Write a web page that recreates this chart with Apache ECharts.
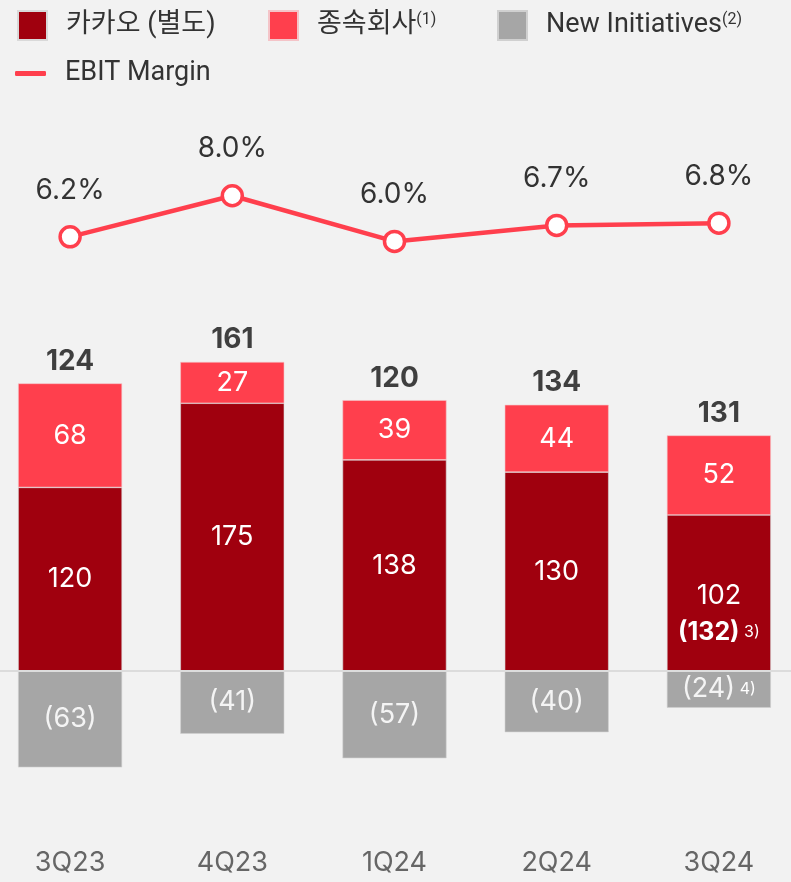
<!DOCTYPE html>
<html>
<head>
<meta charset="utf-8">
<script src="https://cdn.jsdelivr.net/npm/echarts@6/dist/echarts.min.js"></script>
<style>
  html, body { margin: 0; padding: 0; background: #f2f2f2; overflow: hidden; }
  #chart { width: 811px; height: 882px; margin-left: -11px; }
</style>
</head>
<body>
<div id="chart"></div>
<script>
// quarters and values (KRW bn)
const quarters = ['3Q23', '4Q23', '1Q24', '2Q24', '3Q24']
const kakaoSeparate = [120, 175, 138, 130, 102]
const subsidiaries = [68, 27, 39, 44, 52]
const newInitiatives = [-63, -41, -57, -40, -24]
const totals = [124, 161, 120, 134, 131]
const ebitMargin = [6.2, 8.0, 6.0, 6.7, 6.8]

const FONT = 'Inter, "Noto Sans CJK KR", sans-serif'
const LFONT = 'Roboto, "Noto Sans CJK KR", sans-serif'
const DARK = '#a0000e'
const RED = '#ff3f4d'
const GRAY = '#a6a6a6'

const chart = echarts.init(document.getElementById('chart'))

const legendText = { fontFamily: LFONT, fontSize: 27, color: '#333', padding: [0, 0, 0, 14],
  rich: { sup: { fontFamily: LFONT, fontSize: 16, color: '#333', verticalAlign: 'top', padding: [0, 0, 12, 0] } } }

// one legend per item so each sits where the reference has it (x offset by the -11px div shift)
function legendAt(name, left, top, icon, w, h, fmt, extra) {
  return Object.assign({
    data: [name], left: left, top: top, icon: icon, itemWidth: w, itemHeight: h,
    itemGap: 0, textStyle: legendText, selectedMode: false,
    formatter: fmt || (n => n)
  }, extra || {})
}

chart.setOption({
  backgroundColor: '#f2f2f2',
  animation: false,
  textStyle: { fontFamily: FONT },
  legend: [
    legendAt('카카오 (별도)', 23, 5, 'rect', 29, 29),
    legendAt('종속회사', 274, 5, 'rect', 29, 29, n => n + '{sup|(1)}'),
    legendAt('New Initiatives', 503, 5, 'rect', 29, 29, n => n + '{sup|(2)}'),
    legendAt('EBIT Margin', 21, 55, 'roundRect', 31, 5, null,
      { itemStyle: { color: RED, borderWidth: 0 } })
  ],
  grid: [
    { left: 0, right: 0, top: 212, bottom: 58 },
    { left: 0, right: 0, top: 150, height: 160 }
  ],
  xAxis: [
    {
      type: 'category', data: quarters, gridIndex: 0,
      axisLine: { show: false }, axisTick: { show: false },
      axisLabel: { fontFamily: FONT, fontSize: 27, color: '#666', margin: 25 }
    },
    { type: 'category', data: quarters, gridIndex: 1, show: false }
  ],
  yAxis: [
    { type: 'value', gridIndex: 0, min: -100, max: 300, show: false, splitLine: { show: false } },
    { type: 'value', gridIndex: 1, min: 3, max: 10, show: false, splitLine: { show: false } }
  ],
  series: [
    {
      name: '카카오 (별도)', type: 'bar', stack: 'ebit', barWidth: 104,
      itemStyle: { color: DARK, borderColor: '#d9d9d9', borderWidth: 0.6 },
      label: {
        show: true, position: 'inside', color: '#fff', fontFamily: FONT, fontSize: 27,
        formatter: p => p.dataIndex === 4 ? '{a|' + p.value + '}\n{b|(132)}{s| 3)}' : String(p.value),
        rich: {
          a: { fontFamily: FONT, fontSize: 27, color: '#fff', lineHeight: 37 },
          b: { fontFamily: FONT, fontSize: 25, fontWeight: 'bold', color: '#fff', lineHeight: 37 },
          s: { fontFamily: FONT, fontSize: 16, color: '#fff', lineHeight: 37 }
        }
      },
      markLine: {
        silent: true, symbol: 'none', label: { show: false },
        lineStyle: { color: '#dcdcdc', type: 'solid', width: 2 },
        data: [{ yAxis: 0 }]
      },
      data: kakaoSeparate.map((v, i) => i === 4 ? { value: v, label: { offset: [0, 21] } } : v)
    },
    {
      name: '종속회사', type: 'bar', stack: 'ebit', barWidth: 104,
      itemStyle: { color: RED, borderColor: '#f4c4c8', borderWidth: 0.6 },
      label: { show: true, position: 'inside', color: '#fff', fontFamily: FONT, fontSize: 27 },
      data: subsidiaries
    },
    {
      name: 'New Initiatives', type: 'bar', stack: 'ebit', barWidth: 104,
      itemStyle: { color: GRAY, borderColor: '#d0d0d0', borderWidth: 0.6 },
      label: {
        show: true, position: 'inside', color: '#f4f4f4', fontFamily: FONT, fontSize: 27,
        formatter: p => p.dataIndex === 4 ? '(' + (-p.value) + '){s| 4)}' : '(' + (-p.value) + ')',
        rich: { s: { fontFamily: FONT, fontSize: 16, color: '#fff' } }
      },
      data: newInitiatives
    },
    {
      name: 'total', type: 'scatter', symbolSize: 0, silent: true,
      label: {
        show: true, position: 'top', distance: 8, color: '#111', fontFamily: FONT,
        fontSize: 28, fontWeight: 'bold', formatter: p => String(totals[p.dataIndex])
      },
      data: kakaoSeparate.map((v, i) => v + subsidiaries[i])
    },
    {
      name: 'EBIT Margin', type: 'line', xAxisIndex: 1, yAxisIndex: 1,
      symbol: 'circle', symbolSize: 20, clip: false,
      lineStyle: { color: RED, width: 4.5 },
      itemStyle: { color: '#fff', borderColor: RED, borderWidth: 3.5 },
      label: {
        show: true, position: 'top', distance: 21, color: '#333', fontFamily: FONT,
        fontSize: 28, formatter: p => p.value.toFixed(1) + '%'
      },
      data: ebitMargin
    }
  ]
})
</script>
</body>
</html>
